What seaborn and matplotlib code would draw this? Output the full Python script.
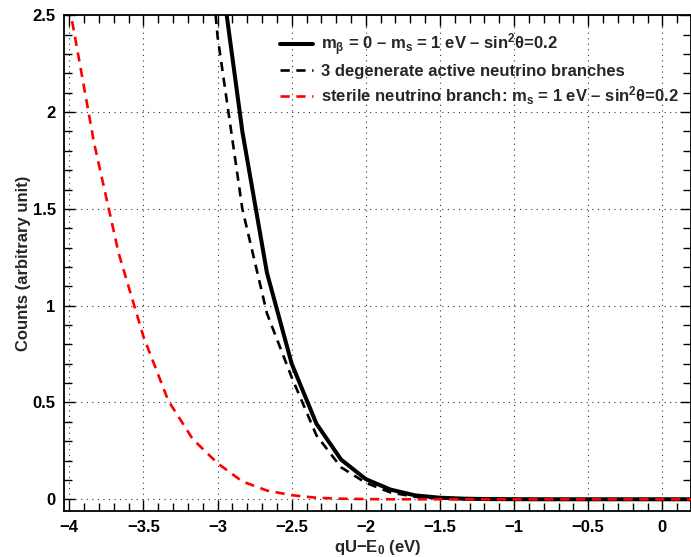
import numpy as np
import pandas as pd
import matplotlib
matplotlib.use("Agg")
import matplotlib.pyplot as plt
import seaborn as sns
from matplotlib.ticker import MultipleLocator, FixedLocator, FuncFormatter

# ---------------- data ----------------
qU = [-4.0, -3.833, -3.667, -3.5, -3.333, -3.167, -3.0, -2.833, -2.667, -2.5,
      -2.333, -2.167, -2.0, -1.833, -1.667, -1.5, -1.333, -1.167, -1.0,
      -0.833, -0.667, -0.5, -0.333, -0.167, 0.0, 0.167, 0.333]

qU_active = qU[5:]
total_counts = [4.3, 2.85, 1.90, 1.17, 0.70, 0.39, 0.205, 0.104, 0.050, 0.020,
                0.008, 0.003, 0.001, 0.0005, 0.0, 0.0, 0.0, 0.0, 0.0, 0.0, 0.0, 0.0]
active_counts = [3.8, 2.39, 1.50, 0.96, 0.63, 0.33, 0.165, 0.085, 0.035, 0.013,
                 0.004, 0.001, 0.0, 0.0, 0.0, 0.0, 0.0, 0.0, 0.0, 0.0, 0.0, 0.0]
sterile_counts = [2.55, 1.84, 1.27, 0.84, 0.51, 0.31, 0.186, 0.092, 0.045, 0.021,
                  0.008, 0.003, 0.001, 0.0, 0.0, 0.0, 0.0, 0.0, 0.0, 0.0, 0.0,
                  0.0, 0.0, 0.0, 0.0, 0.0, 0.0]

labels = [r"m$_\beta$ = 0 – m$_{\rm s}$ = 1 eV – sin$^2\theta$=0.2",
          "3 degenerate active neutrino branches",
          r"sterile neutrino branch: m$_{\rm s}$ = 1 eV – sin$^2\theta$=0.2"]

xticks = [-4, -3.5, -3, -2.5, -2, -1.5, -1, -0.5, 0]
yticks = [0, 0.5, 1, 1.5, 2, 2.5]

# ---------------- style ----------------
sns.set_style("ticks")
plt.rcParams['font.family'] = ['Liberation Sans', 'DejaVu Sans']
plt.rcParams['font.weight'] = 'bold'
plt.rcParams['mathtext.fontset'] = 'custom'
plt.rcParams['mathtext.rm'] = 'Liberation Sans:bold'
plt.rcParams['mathtext.bf'] = 'Liberation Sans:bold'
plt.rcParams['mathtext.it'] = 'Liberation Sans:bold'
plt.rcParams['mathtext.sf'] = 'Liberation Sans:bold'
plt.rcParams['mathtext.default'] = 'rm'

fig = plt.figure(figsize=(6.91, 5.57), dpi=100)
L, R, B, T = 64 / 691, 690.5 / 691, 46.3 / 557, 541.7 / 557
ax = fig.add_axes([L, B, R - L, T - B])

df_tot = pd.DataFrame({"x": qU_active, "y": total_counts})
df_act = pd.DataFrame({"x": qU_active, "y": active_counts})
df_ste = pd.DataFrame({"x": qU, "y": sterile_counts})

sns.lineplot(data=df_tot, x="x", y="y", ax=ax, color="black", lw=2.9,
             label=labels[0], sort=False, estimator=None, zorder=3)
sns.lineplot(data=df_act, x="x", y="y", ax=ax, color="black", lw=1.9,
             label=labels[1], sort=False, estimator=None, zorder=4)
sns.lineplot(data=df_ste, x="x", y="y", ax=ax, color="red", lw=1.9,
             label=labels[2], sort=False, estimator=None, zorder=5)
ax.lines[1].set_dashes((3.5, 2.5))
ax.lines[2].set_dashes((3.5, 2.5))

ax.set_xlim(-4.036, 0.19)
ax.set_ylim(-0.059, 2.5)

ax.xaxis.set_major_locator(FixedLocator(xticks))
ax.yaxis.set_major_locator(FixedLocator(yticks))
ax.xaxis.set_minor_locator(MultipleLocator(0.1))
ax.yaxis.set_minor_locator(MultipleLocator(0.1))
fmt = FuncFormatter(lambda v, p: ("%g" % v).replace("-", "\u2212"))
ax.xaxis.set_major_formatter(fmt)
ax.yaxis.set_major_formatter(fmt)

ax.tick_params(which='both', direction='in', top=True, right=True,
               labelsize=12, width=1.0, colors='black')
ax.tick_params(which='major', length=8)
ax.tick_params(which='minor', length=6)
ax.tick_params(axis='x', which='major', pad=7)
ax.tick_params(axis='y', which='major', pad=6)
for lab in ax.get_xticklabels() + ax.get_yticklabels():
    lab.set_fontweight('bold')

for s in ax.spines.values():
    s.set_linewidth(1.3)
    s.set_color('black')

ax.grid(True, which='major', linestyle=(0, (1, 4)), color='#333333', lw=0.8)

ax.set_xlabel(r"qU−E$_0$ (eV)", fontsize=12, fontweight='bold', labelpad=2)
ax.set_ylabel("Counts (arbitrary unit)", fontsize=12, fontweight='bold')
ax.yaxis.set_label_coords(-0.052, 0.5)

leg = ax.legend(loc='upper left', bbox_to_anchor=(0.345, 0.967), frameon=False,
                fontsize=12, handlelength=2.0, handletextpad=0.45,
                labelspacing=0.35, borderpad=0, borderaxespad=0)
for t in leg.get_texts():
    t.set_fontweight('bold')
leg.legend_handles[1].set_dashes((3.5, 2.5))
leg.legend_handles[2].set_dashes((3.5, 2.5))

fig.savefig("out.png", dpi=100)
